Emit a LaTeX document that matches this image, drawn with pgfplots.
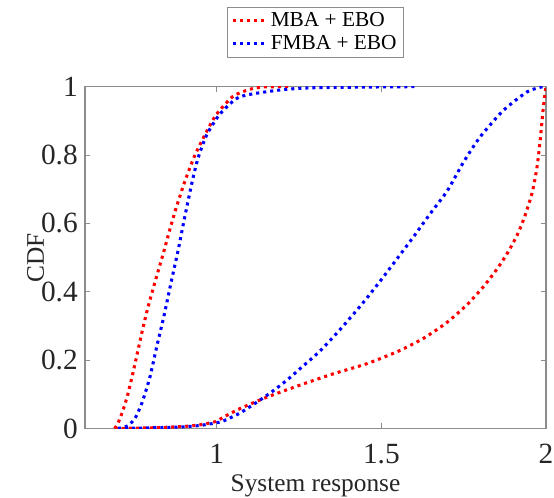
\documentclass[border=0pt]{standalone}
\usepackage{pgfplots}
\pgfplotsset{compat=1.18}
\usepackage{fontspec}
\setmainfont{Liberation Serif}
\newfontfamily\tickfont{Liberation Serif}
\definecolor{axgray}{RGB}{140,140,140}
\definecolor{txt}{RGB}{38,38,38}
\begin{document}
\begin{tikzpicture}
\useasboundingbox (-63.75pt,-52.1pt) rectangle (351.75pt,321.4pt);
\begin{axis}[
  at={(0,0)}, anchor=south west,
  scale only axis, width=345.75pt, height=256.4pt,
  xmin=0.6, xmax=2, ymin=0, ymax=1,
  xtick={1,1.5,2}, ytick={0,0.2,0.4,0.6,0.8,1},
  xticklabels={\textrm{\tickfont 1},\textrm{\tickfont 1.5},\textrm{\tickfont 2}},
  yticklabels={\textrm{\tickfont 0},\textrm{\tickfont 0.2},\textrm{\tickfont 0.4},\textrm{\tickfont 0.6},\textrm{\tickfont 0.8},\textrm{\tickfont 1}},
  tick align=inside, major tick length=4pt,
  axis line style={axgray, line width=0.8pt},
  tick style={axgray, line width=0.6pt},
  ticklabel style={font=\tickfont\fontsize{22}{24}\selectfont, text=txt},
  xticklabel style={anchor=base, yshift=-26.25pt},
  yticklabel style={anchor=east, inner xsep=0pt, xshift=-5.25pt},
  xlabel={System response}, ylabel={CDF},
  label style={font=\fontsize{19}{21}\selectfont, text=txt},
  xlabel style={at={(axis description cs:0.5,0)}, anchor=base, yshift=-47.25pt},
  ylabel style={at={([xshift=-37pt]axis description cs:0,0.5)}, anchor=center},
  legend style={at={(0.5,1)}, anchor=south, yshift=22pt, draw=axgray, line width=0.6pt,
    font=\fontsize{16}{19}\selectfont, inner xsep=3pt, inner ysep=2pt, row sep=1pt},
  legend cell align=left,
  legend image code/.code={\draw[#1, line width=2.3pt, dash pattern=on 2.4pt off 2.8pt] (0pt,0pt) -- (25pt,0pt);},
  every axis plot/.append style={line width=2.3pt, dash pattern=on 2.3pt off 3pt, line join=round},
]
\addplot[red, smooth, tension=0.4] coordinates {(0.69,0) (0.70,0.015) (0.716,0.055) (0.73,0.1) (0.745,0.16) (0.76,0.225) (0.775,0.29) (0.79,0.35) (0.81,0.42) (0.837,0.51) (0.86,0.59) (0.88,0.655) (0.904,0.725) (0.934,0.8) (0.97,0.87) (1.0,0.92) (1.05,0.972) (1.1,0.992) (1.14,0.999) (1.22,1)};
\addlegendentry{MBA + EBO}
\addplot[blue, smooth, tension=0.4] coordinates {(0.70,0) (0.706,0.001) (0.73,0.008) (0.752,0.03) (0.773,0.075) (0.797,0.15) (0.818,0.24) (0.84,0.33) (0.862,0.43) (0.883,0.522) (0.90,0.605) (0.925,0.72) (0.943,0.79) (0.97,0.86) (1.01,0.92) (1.07,0.97) (1.19,0.99) (1.3,0.997) (1.6,1)};
\addlegendentry{FMBA + EBO}
\addplot[red, smooth, tension=0.4, forget plot] coordinates {(0.69,0) (0.8,0.002) (0.9,0.006) (0.95,0.011) (0.995,0.02) (1.02,0.033) (1.07,0.058) (1.153,0.092) (1.253,0.127) (1.354,0.16) (1.457,0.19) (1.551,0.226) (1.63,0.265) (1.70,0.311) (1.76,0.362) (1.81,0.415) (1.85,0.465) (1.881,0.51) (1.912,0.565) (1.936,0.622) (1.958,0.69) (1.972,0.76) (1.982,0.84) (1.992,0.94) (2.0,1)};
\addplot[blue, smooth, tension=0.4, forget plot] coordinates {(0.70,0) (0.8,0.002) (0.9,0.005) (0.95,0.009) (0.995,0.016) (1.02,0.022) (1.07,0.045) (1.122,0.077) (1.171,0.11) (1.214,0.142) (1.253,0.175) (1.314,0.227) (1.375,0.29) (1.442,0.365) (1.497,0.432) (1.548,0.497) (1.597,0.56) (1.648,0.628) (1.70,0.695) (1.75,0.78) (1.80,0.853) (1.87,0.93) (1.943,0.985) (1.99,1) (2.0,1)};
\end{axis}
\end{tikzpicture}
\end{document}
